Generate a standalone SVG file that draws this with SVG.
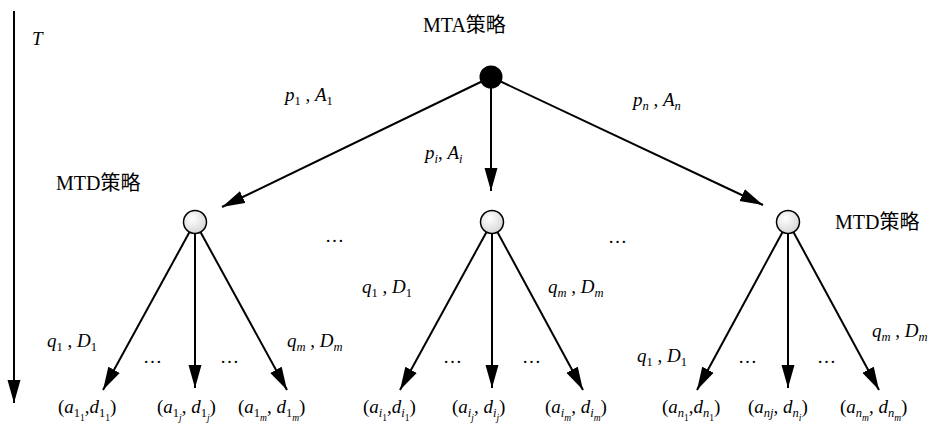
<svg xmlns="http://www.w3.org/2000/svg" width="928" height="428" viewBox="0 0 928 428">
<style>
.t{font-family:"Liberation Serif","Noto Sans CJK SC",serif;font-size:19px;fill:#000}
.h{font-family:"Liberation Serif","Noto Sans CJK SC",serif;font-size:20px;fill:#000}
.i{font-style:italic}
.s{font-size:12.5px;font-style:normal}
.si{font-size:12.5px;font-style:italic}
.ss{font-size:9.5px;font-style:normal}
.ssi{font-size:9.5px;font-style:italic}
.e{stroke:#000;stroke-width:2;fill:none;marker-end:url(#ah)}
.mtd{fill:url(#g);stroke:#000;stroke-width:1.5}
</style>
<defs>
<marker id="ah" markerUnits="userSpaceOnUse" markerWidth="24" markerHeight="14" refX="23" refY="7" orient="auto">
<path d="M0,0.5 L23,7 L0,13.5 z" fill="#000"/>
</marker>
<radialGradient id="g" cx="0.4" cy="0.35" r="0.7">
<stop offset="0" stop-color="#ffffff"/>
<stop offset="1" stop-color="#d4d4d4"/>
</radialGradient>
</defs>

<g id="connectors">
<line class="e" x1="14" y1="11" x2="14" y2="403"/>
<line class="e" x1="491" y1="77" x2="222" y2="207"/>
<line class="e" x1="491" y1="77" x2="491" y2="191"/>
<line class="e" x1="491" y1="77" x2="763" y2="205"/>
<line class="e" x1="195" y1="222" x2="103" y2="390"/>
<line class="e" x1="195" y1="222" x2="195" y2="388"/>
<line class="e" x1="195" y1="222" x2="287" y2="390"/>
<line class="e" x1="492" y1="222" x2="400" y2="390"/>
<line class="e" x1="492" y1="222" x2="492" y2="388"/>
<line class="e" x1="492" y1="222" x2="583" y2="390"/>
<line class="e" x1="788" y1="222" x2="697" y2="390"/>
<line class="e" x1="788" y1="222" x2="788" y2="388"/>
<line class="e" x1="788" y1="222" x2="879" y2="390"/>
</g>

<g id="axis-label"><text class="t i" x="32" y="45">T</text></g>

<g id="mta">
<circle cx="491" cy="77" r="11.5" fill="#000"/>
<text class="h" x="423" y="32">MTA策略</text>
</g>
<g id="mtd-1">
<circle class="mtd" cx="195" cy="222" r="11.5"/>
<text class="h" x="56" y="190">MTD策略</text>
</g>
<g id="mtd-i">
<circle class="mtd" cx="492" cy="222" r="11.5"/>
</g>
<g id="mtd-n">
<circle class="mtd" cx="788" cy="222" r="11.5"/>
<text class="h" x="835" y="229">MTD策略</text>
</g>

<g id="edge-labels">
<text class="t" x="285" y="101"><tspan class="i">p</tspan><tspan class="s" dy="4">1</tspan><tspan dy="-4"> , </tspan><tspan class="i">A</tspan><tspan class="s" dy="4">1</tspan></text>
<text class="t" x="425" y="159"><tspan class="i">p</tspan><tspan class="si" dy="4">i</tspan><tspan dy="-4">, </tspan><tspan class="i">A</tspan><tspan class="si" dy="4">i</tspan></text>
<text class="t" x="633" y="106"><tspan class="i">p</tspan><tspan class="si" dy="4">n</tspan><tspan dy="-4"> , </tspan><tspan class="i">A</tspan><tspan class="si" dy="4">n</tspan></text>

<text class="t" x="47" y="347"><tspan class="i">q</tspan><tspan class="s" dy="4">1</tspan><tspan dy="-4"> , </tspan><tspan class="i">D</tspan><tspan class="s" dy="4">1</tspan></text>
<text class="t" x="287" y="347"><tspan class="i">q</tspan><tspan class="si" dy="4">m</tspan><tspan dy="-4"> , </tspan><tspan class="i">D</tspan><tspan class="si" dy="4">m</tspan></text>
<text class="t" x="362" y="293"><tspan class="i">q</tspan><tspan class="s" dy="4">1</tspan><tspan dy="-4"> , </tspan><tspan class="i">D</tspan><tspan class="s" dy="4">1</tspan></text>
<text class="t" x="548" y="293"><tspan class="i">q</tspan><tspan class="si" dy="4">m</tspan><tspan dy="-4"> , </tspan><tspan class="i">D</tspan><tspan class="si" dy="4">m</tspan></text>
<text class="t" x="637" y="362"><tspan class="i">q</tspan><tspan class="s" dy="4">1</tspan><tspan dy="-4"> , </tspan><tspan class="i">D</tspan><tspan class="s" dy="4">1</tspan></text>
<text class="t" x="872" y="337"><tspan class="i">q</tspan><tspan class="si" dy="4">m</tspan><tspan dy="-4"> , </tspan><tspan class="i">D</tspan><tspan class="si" dy="4">m</tspan></text>
</g>

<g id="ellipses">
<text class="t" x="325" y="242">…</text>
<text class="t" x="608" y="243">…</text>
<text class="t" x="143" y="363">…</text>
<text class="t" x="220" y="363">…</text>
<text class="t" x="443" y="363">…</text>
<text class="t" x="522" y="363">…</text>
<text class="t" x="738" y="363">…</text>
<text class="t" x="817" y="363">…</text>
</g>

<g id="leaves">
<text class="t" x="58" y="413">(<tspan class="i">a</tspan><tspan class="s" dy="4">1</tspan><tspan class="ss" dy="4">1</tspan><tspan dy="-8">,</tspan><tspan class="i">d</tspan><tspan class="s" dy="4">1</tspan><tspan class="ss" dy="4">1</tspan><tspan dy="-8">)</tspan></text>
<text class="t" x="157" y="413">(<tspan class="i">a</tspan><tspan class="s" dy="4">1</tspan><tspan class="ssi" dy="4">j</tspan><tspan dy="-8">, </tspan><tspan class="i">d</tspan><tspan class="s" dy="4">1</tspan><tspan class="ssi" dy="4">j</tspan><tspan dy="-8">)</tspan></text>
<text class="t" x="238" y="413">(<tspan class="i">a</tspan><tspan class="s" dy="4">1</tspan><tspan class="ssi" dy="4">m</tspan><tspan dy="-8">, </tspan><tspan class="i">d</tspan><tspan class="s" dy="4">1</tspan><tspan class="ssi" dy="4">m</tspan><tspan dy="-8">)</tspan></text>

<text class="t" x="363" y="413">(<tspan class="i">a</tspan><tspan class="si" dy="4">i</tspan><tspan class="ss" dy="4">1</tspan><tspan dy="-8">,</tspan><tspan class="i">d</tspan><tspan class="si" dy="4">i</tspan><tspan class="ss" dy="4">1</tspan><tspan dy="-8">)</tspan></text>
<text class="t" x="452" y="413">(<tspan class="i">a</tspan><tspan class="si" dy="4">i</tspan><tspan class="ssi" dy="4">j</tspan><tspan dy="-8">, </tspan><tspan class="i">d</tspan><tspan class="si" dy="4">i</tspan><tspan class="ssi" dy="4">j</tspan><tspan dy="-8">)</tspan></text>
<text class="t" x="545" y="413">(<tspan class="i">a</tspan><tspan class="si" dy="4">i</tspan><tspan class="ssi" dy="4">m</tspan><tspan dy="-8">, </tspan><tspan class="i">d</tspan><tspan class="si" dy="4">i</tspan><tspan class="ssi" dy="4">m</tspan><tspan dy="-8">)</tspan></text>

<text class="t" x="662" y="413">(<tspan class="i">a</tspan><tspan class="si" dy="4">n</tspan><tspan class="ss" dy="4">1</tspan><tspan dy="-8">,</tspan><tspan class="i">d</tspan><tspan class="si" dy="4">n</tspan><tspan class="ss" dy="4">1</tspan><tspan dy="-8">)</tspan></text>
<text class="t" x="748" y="413">(<tspan class="i">a</tspan><tspan class="si" dy="4">nj</tspan><tspan dy="-4">, </tspan><tspan class="i">d</tspan><tspan class="si" dy="4">n</tspan><tspan class="ssi" dy="4">i</tspan><tspan dy="-8">)</tspan></text>
<text class="t" x="840" y="413">(<tspan class="i">a</tspan><tspan class="si" dy="4">n</tspan><tspan class="ssi" dy="4">m</tspan><tspan dy="-8">, </tspan><tspan class="i">d</tspan><tspan class="si" dy="4">n</tspan><tspan class="ssi" dy="4">m</tspan><tspan dy="-8">)</tspan></text>
</g>
</svg>
